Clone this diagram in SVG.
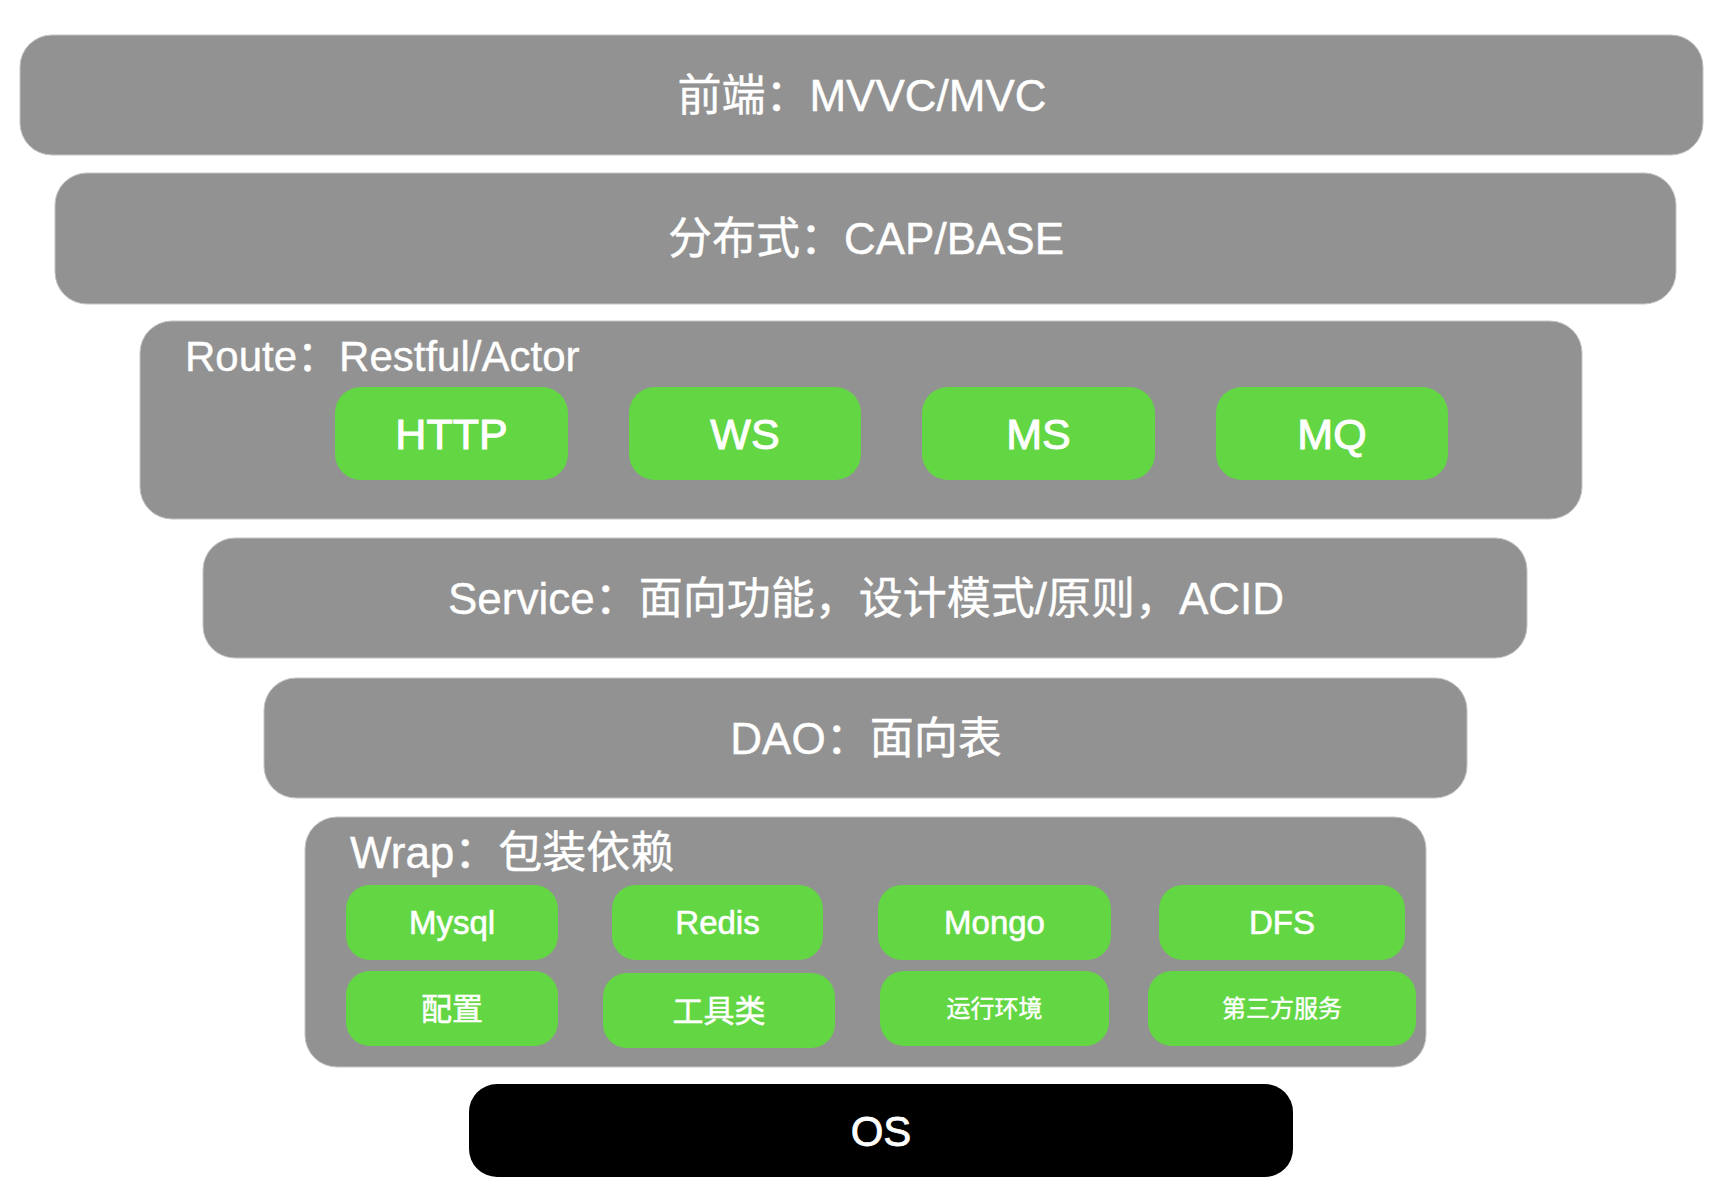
<svg xmlns="http://www.w3.org/2000/svg" width="1728" height="1198" viewBox="0 0 1728 1198">
<style>
.layer{fill:#929292;stroke:#c4c4c4;stroke-width:1}
.btn{fill:#63d644}
.os{fill:#000000}
text{font-family:"Liberation Sans","Noto Sans CJK SC",sans-serif;fill:#ffffff;stroke:#ffffff;stroke-width:0.4}
.t44{font-size:44px;text-anchor:middle}
.lbl{font-size:42px}
.b43{font-size:43px;text-anchor:middle;stroke-width:1}
.b33{font-size:33px;text-anchor:middle;stroke-width:0.6}
.b31{font-size:31px;text-anchor:middle;stroke-width:0.5}
.b24{font-size:24px;text-anchor:middle;stroke-width:0.4}
</style>
<rect width="1728" height="1198" fill="#ffffff"/>
<g id="frontend">
<rect class="layer" x="20" y="35" width="1683" height="120" rx="32"/>
<text class="t44" x="862" y="111">前端：MVVC/MVC</text>
</g>
<g id="distributed">
<rect class="layer" x="55" y="173" width="1621" height="131" rx="32"/>
<text class="t44" x="866" y="254">分布式：CAP/BASE</text>
</g>
<g id="route">
<rect class="layer" x="140" y="321" width="1442" height="198" rx="32"/>
<text class="lbl" x="185" y="371">Route：Restful/Actor</text>
</g>
<g id="http">
<rect class="btn" x="335" y="387" width="233" height="93" rx="26"/>
<text class="b43" x="451.5" y="449">HTTP</text>
</g>
<g id="ws">
<rect class="btn" x="629" y="387" width="232" height="93" rx="26"/>
<text class="b43" x="745" y="449">WS</text>
</g>
<g id="ms">
<rect class="btn" x="922" y="387" width="233" height="93" rx="26"/>
<text class="b43" x="1038.5" y="449">MS</text>
</g>
<g id="mq">
<rect class="btn" x="1216" y="387" width="232" height="93" rx="26"/>
<text class="b43" x="1332" y="449">MQ</text>
</g>
<g id="service">
<rect class="layer" x="203" y="538" width="1324" height="120" rx="32"/>
<text class="t44" x="866" y="614">Service：面向功能，设计模式/原则，ACID</text>
</g>
<g id="dao">
<rect class="layer" x="264" y="678" width="1203" height="120" rx="32"/>
<text class="t44" x="866" y="754">DAO：面向表</text>
</g>
<g id="wrap">
<rect class="layer" x="305" y="817" width="1121" height="250" rx="32"/>
<text class="lbl" x="350" y="868" style="font-size:44px">Wrap：包装依赖</text>
</g>
<g id="mysql">
<rect class="btn" x="346" y="885" width="212" height="75" rx="24"/>
<text class="b33" x="452" y="934">Mysql</text>
</g>
<g id="redis">
<rect class="btn" x="612" y="885" width="211" height="75" rx="24"/>
<text class="b33" x="717.5" y="934">Redis</text>
</g>
<g id="mongo">
<rect class="btn" x="878" y="885" width="233" height="75" rx="24"/>
<text class="b33" x="994.5" y="934">Mongo</text>
</g>
<g id="dfs">
<rect class="btn" x="1159" y="885" width="246" height="75" rx="24"/>
<text class="b33" x="1282" y="934">DFS</text>
</g>
<g id="config">
<rect class="btn" x="346" y="971" width="212" height="75" rx="24"/>
<text class="b31" x="452" y="1020">配置</text>
</g>
<g id="tools">
<rect class="btn" x="603" y="973" width="232" height="75" rx="24"/>
<text class="b31" x="719" y="1022">工具类</text>
</g>
<g id="runtime">
<rect class="btn" x="880" y="971" width="229" height="75" rx="24"/>
<text class="b24" x="994.5" y="1017">运行环境</text>
</g>
<g id="thirdparty">
<rect class="btn" x="1148" y="971" width="268" height="75" rx="24"/>
<text class="b24" x="1282" y="1017">第三方服务</text>
</g>
<g id="os">
<rect class="os" x="469" y="1084" width="824" height="93" rx="28"/>
<text class="t44" x="881" y="1146" style="font-size:42px;stroke-width:0.8">OS</text>
</g>
<g id="connectors"></g>
</svg>
